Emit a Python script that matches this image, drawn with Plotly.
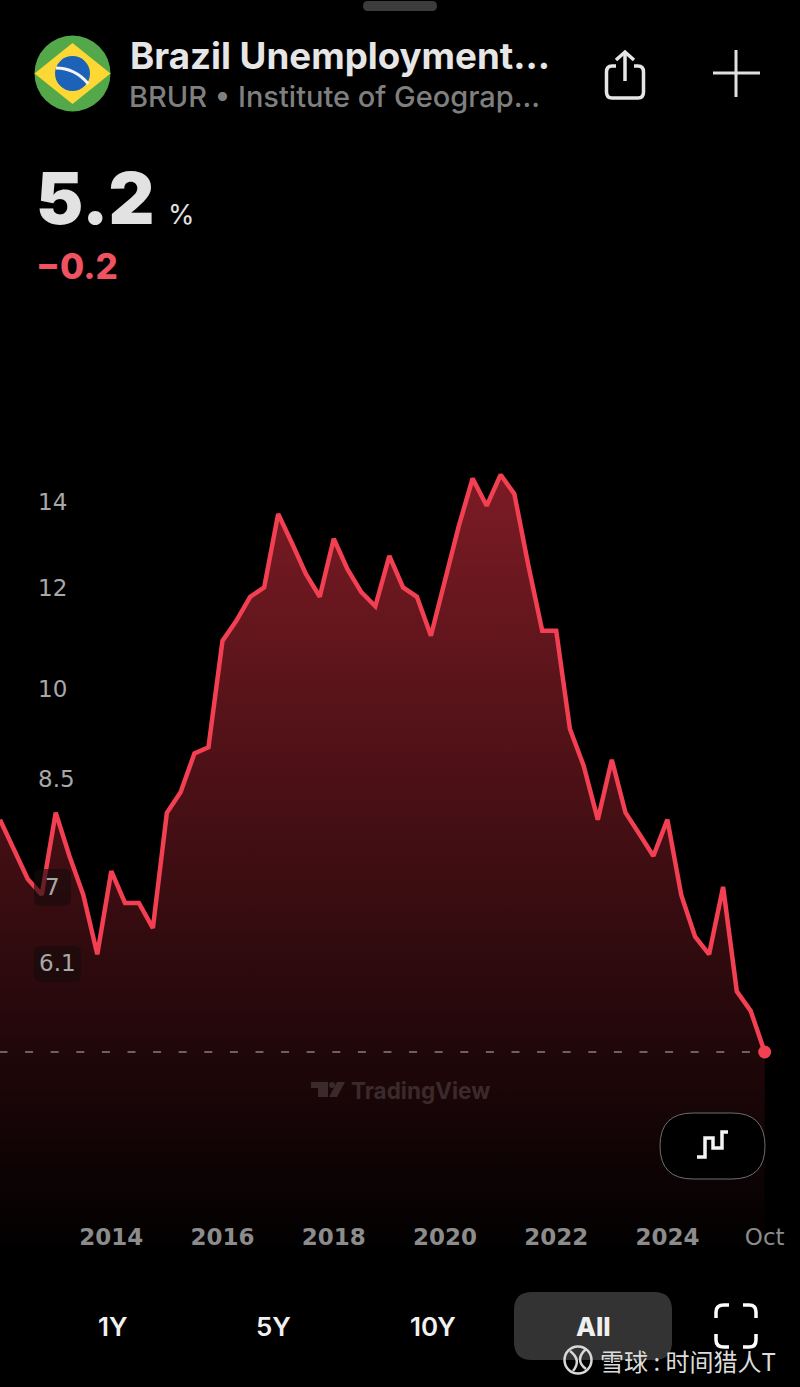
"""
Brazil Unemployment Rate - mobile chart screen
Quarterly values on a log axis, with the app chrome drawn as shapes and annotations.
"""

import math
import plotly.graph_objects as go

WIDTH = 800
HEIGHT = 1387

LINE_COLOR = "#f23f52"
GREY = "#8c8c8c"
FONT = "Inter"
AXIS_FONT = "DejaVu Sans"
CJK_FONT = "Noto Sans CJK SC"

dates = [
    "2012-01-01", "2012-04-01", "2012-07-01", "2012-10-01",
    "2013-01-01", "2013-04-01", "2013-07-01", "2013-10-01",
    "2014-01-01", "2014-04-01", "2014-07-01", "2014-10-01",
    "2015-01-01", "2015-04-01", "2015-07-01", "2015-10-01",
    "2016-01-01", "2016-04-01", "2016-07-01", "2016-10-01",
    "2017-01-01", "2017-04-01", "2017-07-01", "2017-10-01",
    "2018-01-01", "2018-04-01", "2018-07-01", "2018-10-01",
    "2019-01-01", "2019-04-01", "2019-07-01", "2019-10-01",
    "2020-01-01", "2020-04-01", "2020-07-01", "2020-10-01",
    "2021-01-01", "2021-04-01", "2021-07-01", "2021-10-01",
    "2022-01-01", "2022-04-01", "2022-07-01", "2022-10-01",
    "2023-01-01", "2023-04-01", "2023-07-01", "2023-10-01",
    "2024-01-01", "2024-04-01", "2024-07-01", "2024-10-01",
    "2025-01-01", "2025-04-01", "2025-07-01", "2025-10-01",
]
unemployment = [
    7.9, 7.5, 7.1, 6.9,
    8.0, 7.4, 6.9, 6.2,
    7.2, 6.8, 6.8, 6.5,
    8.0, 8.3, 8.9, 9.0,
    10.9, 11.3, 11.8, 12.0,
    13.7, 13.0, 12.3, 11.8,
    13.1, 12.4, 11.9, 11.6,
    12.7, 12.0, 11.8, 11.0,
    12.2, 13.4, 14.6, 13.9,
    14.7, 14.2, 12.5, 11.1,
    11.1, 9.3, 8.7, 7.9,
    8.8, 8.0, 7.7, 7.4,
    7.9, 6.9, 6.4, 6.2,
    7.0, 5.8, 5.6, 5.2,
]
x_tick_dates = ["2014-01-01", "2016-01-01", "2018-01-01", "2020-01-01", "2022-01-01", "2024-01-01", "2025-10-01"]
x_tick_labels = ["<b>2014</b>", "<b>2016</b>", "<b>2018</b>", "<b>2020</b>", "<b>2022</b>", "<b>2024</b>", "Oct"]
y_tick_values = [8.5, 10, 12, 14]
y_chip_values = [6.1, 7]
chip_centers = [57.5, 52.5]
range_buttons = ["1Y", "5Y", "10Y", "All"]
button_centers = [113, 273, 433, 593]

FILL_FLOOR = 3.6


def px(x):
    return x / WIDTH


def py(y):
    return 1 - y / HEIGHT


def path(points, close=False):
    d = "M " + " L ".join(f"{px(x)},{py(y)}" for x, y in points)
    return d + (" Z" if close else "")


def rounded_rect(x0, y0, x1, y1, r):
    return (
        f"M {px(x0 + r)},{py(y0)} L {px(x1 - r)},{py(y0)} Q {px(x1)},{py(y0)} {px(x1)},{py(y0 + r)} "
        f"L {px(x1)},{py(y1 - r)} Q {px(x1)},{py(y1)} {px(x1 - r)},{py(y1)} "
        f"L {px(x0 + r)},{py(y1)} Q {px(x0)},{py(y1)} {px(x0)},{py(y1 - r)} "
        f"L {px(x0)},{py(y0 + r)} Q {px(x0)},{py(y0)} {px(x0 + r)},{py(y0)} Z"
    )


def path_shape(d, fill="rgba(0,0,0,0)", line="rgba(0,0,0,0)", width=0, layer="above"):
    return dict(type="path", xref="paper", yref="paper", path=d, fillcolor=fill,
                line=dict(color=line, width=width), layer=layer)


def circle_shape(cx, cy, r, fill, line="rgba(0,0,0,0)", width=0):
    return dict(type="circle", xref="paper", yref="paper", x0=px(cx - r), x1=px(cx + r),
                y0=py(cy + r), y1=py(cy - r), fillcolor=fill, line=dict(color=line, width=width))


def label(text, x, y, size, color, weight=400, anchor="left", family=FONT):
    return dict(text=text, x=px(x), y=py(y), xref="paper", yref="paper", xanchor=anchor, yanchor="middle",
                showarrow=False, font=dict(family=family, size=size, color=color, weight=weight))


fig = go.Figure()

# invisible floor the gradient fills down to
fig.add_trace(go.Scatter(
    x=dates, y=[FILL_FLOOR] * len(dates), mode="lines",
    line=dict(width=0, color="rgba(0,0,0,0)"), hoverinfo="skip",
))
fig.add_trace(go.Scatter(
    x=dates, y=unemployment, mode="lines",
    line=dict(color=LINE_COLOR, width=4.5),
    fill="tonexty",
    fillgradient=dict(type="vertical", colorscale=[[0, "rgba(124,27,36,0)"], [1, "rgba(124,27,36,1)"]]),
    hovertemplate="%{x|%b %Y}: %{y}%<extra></extra>",
))
fig.add_trace(go.Scatter(
    x=dates[-1:], y=unemployment[-1:], mode="markers",
    marker=dict(color=LINE_COLOR, size=13), hoverinfo="skip",
))

shapes = [
    # drag handle
    path_shape(rounded_rect(363, 1, 437, 11, 5), fill="#3c3c3c"),
    # flag
    circle_shape(72.5, 73.5, 38, "#53a84a"),
    path_shape(path([(34.5, 73.5), (72.5, 43), (110.5, 73.5), (72.5, 104)], close=True), fill="#fdd835"),
    circle_shape(72.5, 73.5, 17.5, "#1c62b8"),
    path_shape(f"M {px(56)},{py(68)} Q {px(75)},{py(68)} {px(88.5)},{py(84)}", line="#f4f4f4", width=3),
    # share icon
    path_shape(
        f"M {px(616)},{py(66)} L {px(612)},{py(66)} Q {px(606.5)},{py(66)} {px(606.5)},{py(72)} "
        f"L {px(606.5)},{py(92)} Q {px(606.5)},{py(98)} {px(612)},{py(98)} L {px(638)},{py(98)} "
        f"Q {px(643.5)},{py(98)} {px(643.5)},{py(92)} L {px(643.5)},{py(72)} "
        f"Q {px(643.5)},{py(66)} {px(638)},{py(66)} L {px(634)},{py(66)}",
        line="#e6e6e6", width=3.5),
    path_shape(path([(625, 81), (625, 52)]), line="#e6e6e6", width=3.5),
    path_shape(path([(616, 60), (625, 52), (634, 60)]), line="#e6e6e6", width=3.5),
    # plus icon
    path_shape(path([(713, 73), (760, 73)]), line="#e0e0e0", width=3),
    path_shape(path([(736, 50), (736, 97)]), line="#e0e0e0", width=3),
    # last value line
    dict(type="line", xref="paper", yref="y", x0=px(-0.5), x1=px(765), y0=5.2, y1=5.2,
         line=dict(color="#c4b8b8", width=1, dash="8px,17.6px"), layer="above"),
    # y label chips
    path_shape(rounded_rect(34, 869, 71, 906, 7), fill="rgba(22,12,12,0.62)"),
    path_shape(rounded_rect(34, 946, 81, 982, 7), fill="rgba(22,12,12,0.62)"),
    # TradingView mark
    path_shape(path([(311, 1082), (328, 1082), (328, 1097), (318, 1097), (318, 1088), (311, 1088)], close=True), fill="#3b2a2c"),
    circle_shape(332, 1085, 3, "#3b2a2c"),
    path_shape(path([(337, 1082), (345, 1082), (337, 1097), (329, 1097)], close=True), fill="#3b2a2c"),
    # line style button
    path_shape(rounded_rect(660, 1113, 765, 1179, 33), fill="#000000", line="#6e6e6e", width=1),
    path_shape(path([(697, 1157), (705, 1157), (705, 1138), (713, 1138), (713, 1148), (722, 1148), (722, 1132), (728, 1132)]),
               line="#f4f4f4", width=3.5),
    # range selector
    path_shape(rounded_rect(514, 1292, 672, 1360, 18), fill="#333333"),
    # fullscreen brackets
    path_shape(f"M {px(716)},{py(1318)} L {px(716)},{py(1312)} Q {px(716)},{py(1305)} {px(724)},{py(1305)} L {px(729)},{py(1305)}", line="#ffffff", width=3.5),
    path_shape(f"M {px(743)},{py(1305)} L {px(749)},{py(1305)} Q {px(756)},{py(1305)} {px(756)},{py(1312)} L {px(756)},{py(1318)}", line="#ffffff", width=3.5),
    path_shape(f"M {px(716)},{py(1334)} L {px(716)},{py(1340)} Q {px(716)},{py(1347)} {px(724)},{py(1347)} L {px(729)},{py(1347)}", line="#ffffff", width=3.5),
    path_shape(f"M {px(743)},{py(1347)} L {px(749)},{py(1347)} Q {px(756)},{py(1347)} {px(756)},{py(1340)} L {px(756)},{py(1334)}", line="#ffffff", width=3.5),
    # watermark logo
    circle_shape(578, 1360, 13.5, "rgba(0,0,0,0)", line="#d8d8d8", width=2.5),
    path_shape(f"M {px(570)},{py(1351)} Q {px(582)},{py(1360)} {px(573)},{py(1371)}", line="#d8d8d8", width=2.5),
    path_shape(f"M {px(586)},{py(1349)} Q {px(574)},{py(1360)} {px(586)},{py(1369)}", line="#d8d8d8", width=2.5),
]

annotations = [
    label("Brazil Unemployment...", 127.5, 55, 36.7, "#e6e6e6", 700),
    label("BRUR • Institute of Geograp...", 127, 97, 29, "#7f7f7f", 500),
    label("5.2", 34, 198, 71, "#e2e2e2", 900),
    label("%", 166, 214, 27, "#e2e2e2"),
    label("−0.2", 34, 266, 35, "#ef5260", 800),
    label("TradingView", 349, 1090, 22.5, "#3b2a2c", 700),
    label("雪球 : 时间猎人T", 598, 1360, 24, "#dcdcdc", 400, family=CJK_FONT),
]
for name, center in zip(range_buttons, button_centers):
    weight = 800 if name == "All" else 600
    annotations.append(label(name, center, 1326, 26, "#f0f0f0", weight, anchor="center"))
# these two sit above their chips, so they cannot be plain tick labels
for value, center in zip(y_chip_values, chip_centers):
    annotations.append(dict(text=str(value), x=px(center), y=math.log10(value), xref="paper", yref="y",
                            xanchor="center", yanchor="middle", showarrow=False,
                            font=dict(family=AXIS_FONT, size=23, color="#a8a8a8")))

fig.update_layout(
    width=WIDTH,
    height=HEIGHT,
    margin=dict(l=0, r=0, t=0, b=0),
    paper_bgcolor="#000000",
    plot_bgcolor="#000000",
    showlegend=False,
    shapes=shapes,
    annotations=annotations,
    xaxis=dict(
        type="date",
        range=["2012-01-01", "2026-05-21"],
        tickvals=x_tick_dates,
        ticktext=x_tick_labels,
        tickfont=dict(family=AXIS_FONT, size=23, color=GREY),
        showgrid=False,
        zeroline=False,
        ticklen=0,
        anchor="free",
        position=py(1221),
    ),
    yaxis=dict(
        type="log",
        range=[0.45410, 1.53844],
        tickvals=y_tick_values,
        tickfont=dict(family=AXIS_FONT, size=23, color="#a8a8a8"),
        ticklabelposition="inside",
        showgrid=False,
        zeroline=False,
        ticklen=0,
        anchor="free",
        position=px(34),
    ),
)

fig.write_html(
    "out.html",
    config=dict(displayModeBar=False),
    post_script="document.body.style.margin='0';document.body.style.overflow='hidden';document.body.style.background='#000';",
)
